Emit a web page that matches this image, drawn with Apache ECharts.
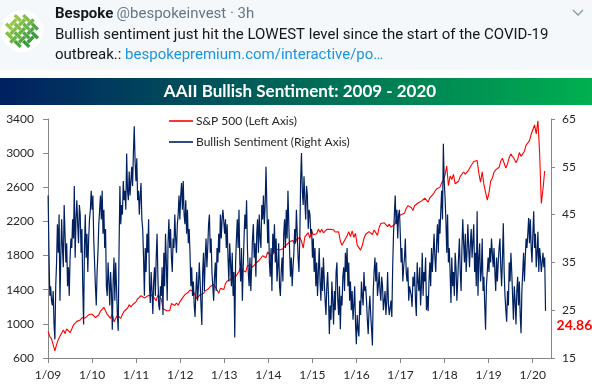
<!DOCTYPE html>
<html><head><meta charset="utf-8">
<script src="https://cdn.jsdelivr.net/npm/echarts@6/dist/echarts.min.js"></script>
<style>html,body{margin:0;padding:0;background:#fff}#c{width:592px;height:388px}</style>
</head><body><div id="c"></div>
<script>
// Weekly AAII bullish sentiment (%) starting 2009-01-02
const sentiment = [
 49,37,28,30,27,26,29,22,18.9,30,35,43,37,45,27,36,44,38,34,47,41,35,39,30,34,28,36,40,38,44,40,51,36,44,48,43,39,47,45,37,42,30,22,38,45,36,41,33,40,44,46,50,
 46,49,40,35,30,26,33,37,43,46,49,44,50,41,46,38,42,30,28,35,31,26,33,29,20.9,31,36,27,35,30,24,20.7,38,51,43,47,45,52,48,50,46,57.8,50,48,54,49,52,55,51,58,63.5,56,
 52,56.8,48,50,45,49,51.6,44,42,36,28,38,33,41,37,44,30,26.5,33,29,24.2,31,34,28,36,41,32,26,25,30,28,34,24,37,30,41,35,27,39,44,38,42,36,33,40,38,45,40,37,43,45,49,
 44,49,51.6,46,52,45,43,48,41,46,39,42,37,30,34,28,31,26,23.6,29,33,27,30,35,31,26,21.9,33,37,29,36,40,34,38,43,45,37,40,33,30,27,32,35,29,38,35,41,37,45,40,44,46,
 46.4,41,44,38,43,36,31,39,35,30,37,28,33,19.3,35,40,44,38,46,35,31,38,27,34,40,45,42,48,38,33,30,36,29,34,40,43,36,39,32,41,44,37,45,40,38,47,44,49,43,47,55,47,
 39,44,35,32,38,29,41,37,43,35,40,31,34,39,30,28,33,36,31,41,44,38,46,40,50,43,37,32,36,30,34,37,42,39,46,41,36,33,40,52,57.9,50,47,53,48,44,51,49,42,46,45,41,
 42,36,40,33,38,30,35,28,33,38,31,27,34,29,36,31,27,24,30,33,28,20,26,23,31,27,22,29,25,33,35,27,24,30,21,28,26,32,34,29,37,33,38,30,35,27,31,25,29,23,26,30,
 22,17.9,24,21,19.5,27,24,31,28,26,33,29,30,27,23,20,25,28,24,21,17.6,29,33,36,31,35,28,30,33,29,27,32,30,25,27,29,24,27,33,26,24,24,27,23.6,34,41,45,49,43,46,40,45,
 46,41,35,38,31,34,36,40,33,31,34,27,30,30,28,25.7,32,30,33,27,23.8,35,31,29,34,26,30,37,28,33,31,36,25,28,24.8,31,35,30,38,33,37,41,36,33,39,43,37,44,41,46,50,44,
 59.8,52,48.7,44,37,45,35,38,33,26.5,36,30,33,28,37,34,27,31,36,40,33,29,38,44,39,35,41,33,37,43,38,34,39,42,36,36,43,33,37,30,45.7,28,36,39,31,33,40,29,32,26,20.9,30,
 30,36,33,38,35,40,37,34,38,33,29,36,31,35,38,40,34,30,36,43.2,33,28,25,22.6,29,26,35,31,37,33,28,23,30,27,22,29,32,26,31,24,20.2,29,33,37,31,36,40,38,41,44.3,39,44,
 38,35,41,45.7,38,41,34,37,41.4,33,38,36,33,35,37,34,36,24.86
];
// S&P 500, every two weeks starting 2009-01-02
const sp500 = [
 910,850,826,827,683,756,815,856,866,929,887,940,921,896,940,987,979,1029,1042,1044,1071,1079,1069,1091,1106,1102,
 1115,1136,1074,1075,1104,1150,1166,1194,1217,1110,1087,1064,1117,1022,1065,1101,1079,1064,1110,1148,1165,1183,1225,1199,1224,1244,
 1258,1293,1276,1329,1320,1304,1314,1328,1337,1340,1333,1300,1271,1340,1316,1292,1179,1177,1154,1136,1155,1238,1253,1216,1244,1219,
 1258,1289,1316,1343,1366,1371,1397,1398,1378,1369,1295,1278,1342,1362,1356,1386,1405,1411,1438,1460,1461,1433,1414,1359,1416,1413,
 1402,1472,1503,1518,1516,1551,1556,1553,1555,1614,1667,1631,1626,1606,1680,1692,1691,1664,1655,1710,1690,1745,1762,1798,1806,1775,
 1842,1842,1790,1797,1836,1878,1866,1865,1864,1881,1878,1924,1937,1961,1968,1978,1931,1988,2008,2011,1968,1887,2018,2040,2068,2003,
 2089,2045,2051,2055,2110,2071,2108,2067,2081,2108,2123,2107,2094,2102,2076,2079,2078,1971,1921,1958,1951,2033,2079,2023,2090,2012,
 2061,1922,1907,1864,1918,2000,2050,2073,2081,2065,2047,2099,2096,2037,2130,2175,2183,2184,2180,2139,2168,2133,2126,2164,2213,2260,
 2263,2277,2271,2297,2351,2383,2378,2363,2329,2384,2390,2416,2432,2438,2425,2472,2476,2426,2477,2500,2519,2553,2581,2582,2602,2652,
 2683,2743,2850,2620,2732,2691,2752,2641,2656,2670,2728,2721,2779,2755,2760,2802,2840,2850,2902,2905,2914,2767,2659,2781,2633,2633,
 2450,2532,2671,2707,2776,2804,2822,2834,2907,2940,2881,2826,2873,2950,2990,2977,2932,2889,2926,3007,2962,2970,3023,3093,3110,3146,
 3221,3235,3330,3226,3380,3000,2411,2580,2790
];
const yearTicks = [2009,2010,2011,2012,2013,2014,2015,2016,2017,2018,2019,2020];
const leftAxis = {min: 600, max: 3400, step: 400};
const rightAxis = {min: 15, max: 65, step: 10};
const seriesNames = ['S&P 500 (Left Axis)', 'Bullish Sentiment (Right Axis)'];
const chartTitle = 'AAII Bullish Sentiment: 2009 - 2020';

const START = 2009 + 1 / 365.25;
const toYear = (i, days) => START + i * days / 365.25;
const sentData = sentiment.map((v, i) => [toYear(i, 7), v]);
const spData = sp500.map((v, i) => [toYear(i, 14), v]);

const chart = echarts.init(document.getElementById('c'), null, {renderer: 'canvas'});
const FONT = 'Lato, "Open Sans", sans-serif';

// avatar decoration
const avatar = [{type: 'circle', shape: {cx: 22, cy: 31, r: 21}, style: {fill: '#ffffff'}}];
for (let i = -3; i <= 3; i++) for (let j = -3; j <= 3; j++) {
  const cx = 22 + (i - j) * 4.3, cy = 31 + (i + j) * 4.3;
  if (Math.hypot(cx - 22, cy - 31) > 14) continue;
  const t = Math.min(1, Math.max(0, ((cx - 22) + (cy - 31) + 16) / 32));
  const c = [Math.round(150 - 90 * t), Math.round(200 - 45 * t), Math.round(70 - 5 * t)];
  avatar.push({type: 'rect', x: cx, y: cy, rotation: ((i + j) & 1 ? 1 : -1) * Math.PI / 4,
    shape: {x: -1.7, y: -4.2, width: 3.4, height: 8.4}, style: {fill: 'rgb(' + c.join(',') + ')'}});
}

chart.setOption({
  animation: false,
  backgroundColor: '#ffffff',
  graphic: [
    {type: 'rect', shape: {x: 0, y: 0, width: 592, height: 70}, style: {fill: '#f5f8fa'}},
    ...avatar,
    {type: 'text', x: 55, y: 14, style: {text: '{b|Bespoke} {g|@bespokeinvest · 3h}', verticalAlign: 'middle',
      rich: {b: {fontFamily: 'Roboto', fontSize: 15, fontWeight: 'bold', fill: '#14171a'},
             g: {fontFamily: 'Roboto', fontSize: 15, fill: '#657786'}}}},
    {type: 'text', x: 55, y: 35, style: {text: 'Bullish sentiment just hit the LOWEST level since the start of the COVID-19',
      fontFamily: 'Roboto', fontSize: 15, fill: '#14171a', verticalAlign: 'middle'}},
    {type: 'text', x: 55, y: 55, style: {text: '{t|outbreak.: }{l|bespokepremium.com/interactive/po…}', verticalAlign: 'middle',
      rich: {t: {fontFamily: 'Roboto', fontSize: 15, fill: '#14171a'}, l: {fontFamily: 'Roboto', fontSize: 15, fill: '#1b95e0'}}}},
    {type: 'polyline', shape: {points: [[573, 10], [578, 15], [583, 10]]}, style: {stroke: '#8899a6', lineWidth: 1.3, fill: null}},
    {type: 'rect', shape: {x: 0, y: 78, width: 592, height: 27},
      style: {fill: new echarts.graphic.LinearGradient(0, 0, 1, 0, [{offset: 0, color: '#002060'}, {offset: 1, color: '#00b050'}])}},
    {type: 'text', x: 300, y: 92, style: {text: chartTitle, fill: '#ffffff', fontFamily: FONT, fontWeight: 'bold',
      fontSize: 17, align: 'center', verticalAlign: 'middle'}}
  ],
  legend: {
    orient: 'vertical', left: 169, top: 114, padding: 0, itemGap: 7, itemWidth: 24, itemHeight: 1.6,
    textStyle: {fontFamily: FONT, fontSize: 12, color: '#262626', lineHeight: 14, padding: [0, 0, 0, -2]},
    data: seriesNames.map(n => ({name: n, icon: 'rect'}))
  },
  grid: {left: 48, right: 41, top: 119, bottom: 30},
  xAxis: {
    type: 'value', min: yearTicks[0], max: 2020.415, interval: 1,
    axisLine: {lineStyle: {color: '#868686'}},
    axisTick: {length: 5, lineStyle: {color: '#868686'}, customValues: yearTicks},
    axisLabel: {customValues: yearTicks, margin: 11, fontFamily: FONT, fontSize: 12, color: '#262626',
      formatter: v => (Math.abs(v - Math.round(v)) < 1e-6 ? '1/' + String(Math.round(v)).slice(2) : '')},
    splitLine: {show: false}
  },
  yAxis: [
    {type: 'value', min: leftAxis.min, max: leftAxis.max, interval: leftAxis.step,
      axisLine: {show: true, lineStyle: {color: '#868686'}}, axisTick: {show: true, length: 5, lineStyle: {color: '#868686'}},
      axisLabel: {margin: 14, fontFamily: FONT, fontSize: 12, color: '#262626', formatter: v => String(v)}, splitLine: {show: false}},
    {type: 'value', min: rightAxis.min, max: rightAxis.max, interval: rightAxis.step, position: 'right',
      axisLine: {show: true, lineStyle: {color: '#868686'}}, axisTick: {show: true, length: 4, lineStyle: {color: '#868686'}},
      axisLabel: {margin: 11, fontFamily: FONT, fontSize: 12, color: '#262626', formatter: v => String(v)}, splitLine: {show: false}}
  ],
  series: [
    {name: seriesNames[0], type: 'line', yAxisIndex: 0, data: spData, showSymbol: false, symbol: 'none',
      lineStyle: {color: '#ff0000', width: 1.1}, itemStyle: {color: '#ff0000'}, z: 2},
    {name: seriesNames[1], type: 'line', yAxisIndex: 1, data: sentData, showSymbol: false, symbol: 'none',
      lineStyle: {color: '#002060', width: 1.2}, itemStyle: {color: '#002060'}, z: 3,
      endLabel: {show: true, offset: [3, 15], formatter: p => p.value[1].toFixed(2),
        color: '#ff0000', fontFamily: FONT, fontWeight: 'bold', fontSize: 14}}
  ]
});
</script></body></html>
